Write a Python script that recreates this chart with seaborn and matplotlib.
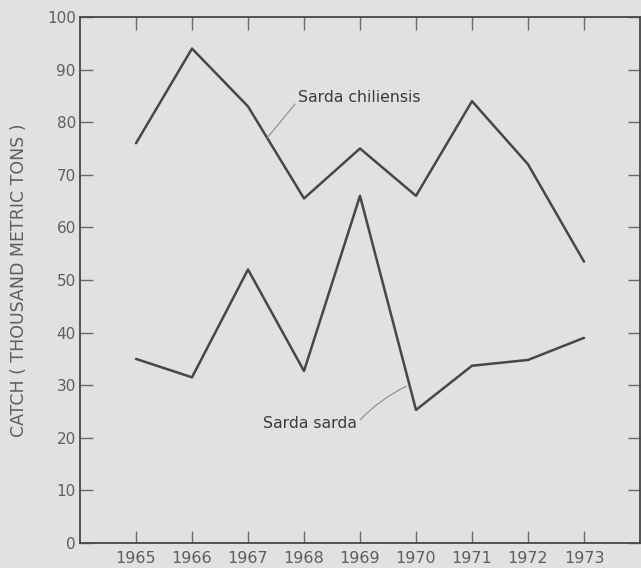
import matplotlib
matplotlib.use("Agg")
import matplotlib.pyplot as plt
import seaborn as sns
import pandas as pd

# Annual catch, thousand metric tons
years = [1965, 1966, 1967, 1968, 1969, 1970, 1971, 1972, 1973]
chiliensis = [76, 94, 83, 65.5, 75, 66, 84, 72, 53.5]
sarda = [35, 31.5, 52, 32.7, 66, 25.3, 33.7, 34.8, 39]
series_names = ["Sarda chiliensis", "Sarda sarda"]

df = pd.DataFrame({
    "year": years * 2,
    "catch": chiliensis + sarda,
    "species": [series_names[0]] * len(years) + [series_names[1]] * len(years),
})

bg = "#e1e1e0"
ink = "#474747"
text_c = "#5e5e5e"

sns.set_style("ticks")
plt.rcParams["font.family"] = ["DejaVu Sans"]

fig = plt.figure(figsize=(6.41, 5.68), dpi=100, facecolor=bg)
ax = fig.add_axes([80 / 641, 25 / 568, 560 / 641, 526 / 568])
ax.set_facecolor(bg)

sns.lineplot(data=df, x="year", y="catch", hue="species",
             palette=[ink, ink], linewidth=1.8, legend=False, ax=ax)

ax.set_xlim(1964, 1974)
ax.set_ylim(0, 100)
ax.set_xticks(years)
ax.set_xticklabels([str(y) for y in years])
ax.set_yticks(range(0, 101, 10))

for side in ["left", "right", "top", "bottom"]:
    ax.spines[side].set_color(ink)
    ax.spines[side].set_linewidth(1.3)

ax.tick_params(axis="both", direction="in", length=9, width=1.0, color="#6a6a6a",
               labelcolor=text_c, labelsize=11)
ax.tick_params(axis="x", top=True, pad=6, labelsize=11.5)
ax.tick_params(axis="y", right=True, pad=3)

ax.set_xlabel("")
ax.set_ylabel("CATCH ( THOUSAND METRIC TONS )", color=text_c, fontsize=12.5, labelpad=14)

# Series labels with thin leader lines
ax.annotate("Sarda chiliensis", xy=(1967.34, 77.0), xytext=(1967.9, (543 - 97) / 5.26),
            color="#3a3a3a", fontsize=11.3, va="center", ha="left",
            arrowprops=dict(arrowstyle="-", color="#8a8a8a", lw=0.8,
                            shrinkA=0, shrinkB=0, relpos=(0, 0.3)))
ax.annotate("Sarda sarda", xy=(1969.83, 29.8), xytext=(1967.27, (543 - 424) / 5.26),
            color="#3a3a3a", fontsize=11.3, va="center", ha="left",
            arrowprops=dict(arrowstyle="-", color="#8a8a8a", lw=0.8,
                            shrinkA=0, shrinkB=0, relpos=(1, 0.55),
                            connectionstyle="arc3,rad=-0.1"))

fig.savefig("out.png", dpi=100, facecolor=bg)
